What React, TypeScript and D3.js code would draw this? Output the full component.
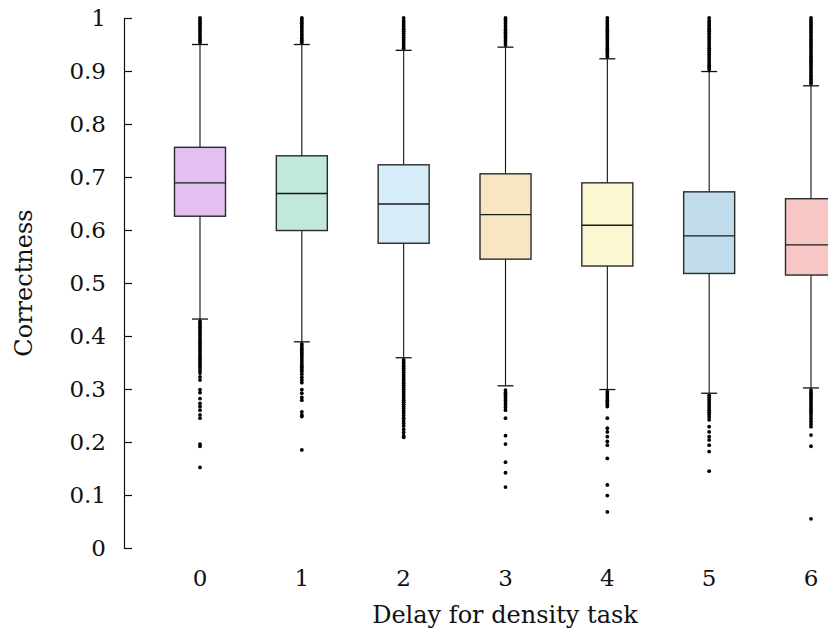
import React, { useEffect, useRef } from 'react';
import * as d3 from 'd3';

// delay categories on the x axis
const delays = ['0', '1', '2', '3', '4', '5', '6'];

// box statistics per delay
const q1 = [0.626, 0.599, 0.575, 0.545, 0.532, 0.518, 0.515];
const medians = [0.689, 0.669, 0.649, 0.629, 0.609, 0.589, 0.572];
const q3 = [0.756, 0.740, 0.723, 0.706, 0.689, 0.672, 0.659];
const lowerWhisker = [0.432, 0.389, 0.359, 0.306, 0.299, 0.292, 0.302];
const upperWhisker = [0.950, 0.950, 0.939, 0.945, 0.923, 0.899, 0.872];

const fills = ['#e3c0f1', '#c1e8dd', '#d6ecf8', '#f8e6c2', '#fbf7d0', '#c1dcec', '#f6c7c4'];

// outliers above the upper whisker
const highOutliers = [
  [0.954, 0.958, 0.962, 0.966, 0.970, 0.974, 0.978, 0.982, 0.986, 0.990, 0.994, 0.998, 1.0],
  [0.954, 0.958, 0.962, 0.966, 0.970, 0.974, 0.978, 0.982, 0.986, 0.990, 0.994, 0.998, 1.0],
  [0.943, 0.947, 0.951, 0.955, 0.959, 0.963, 0.967, 0.971, 0.975, 0.979, 0.983, 0.987, 0.991, 0.995, 1.0],
  [0.949, 0.953, 0.957, 0.961, 0.965, 0.969, 0.973, 0.977, 0.981, 0.985, 0.989, 0.993, 0.997, 1.0],
  [0.927, 0.931, 0.935, 0.939, 0.943, 0.947, 0.951, 0.955, 0.959, 0.963, 0.967, 0.971, 0.975, 0.979, 0.983, 0.987, 0.991, 0.995, 1.0],
  [0.903, 0.907, 0.911, 0.915, 0.919, 0.923, 0.927, 0.931, 0.935, 0.939, 0.943, 0.947, 0.951, 0.955, 0.959, 0.963, 0.967, 0.971, 0.975, 0.979, 0.983, 0.987, 0.991, 0.995, 1.0],
  [0.876, 0.880, 0.884, 0.888, 0.892, 0.896, 0.900, 0.904, 0.908, 0.912, 0.916, 0.920, 0.924, 0.928, 0.932, 0.936, 0.940, 0.944, 0.948, 0.952, 0.956, 0.960, 0.964, 0.968, 0.972, 0.976, 0.980, 0.984, 0.988, 0.992, 0.996, 1.0],
];

// outliers below the lower whisker
const lowOutliers = [
  [0.428, 0.424, 0.420, 0.416, 0.412, 0.408, 0.404, 0.400, 0.396, 0.392, 0.388, 0.384, 0.380, 0.376, 0.372, 0.368, 0.364, 0.360, 0.356, 0.352, 0.348, 0.344, 0.340, 0.335, 0.330, 0.323, 0.317, 0.299, 0.293, 0.282, 0.273, 0.267, 0.260, 0.251, 0.245, 0.196, 0.192, 0.152],
  [0.385, 0.381, 0.377, 0.373, 0.369, 0.365, 0.361, 0.357, 0.353, 0.349, 0.345, 0.341, 0.337, 0.333, 0.328, 0.322, 0.317, 0.312, 0.299, 0.292, 0.284, 0.279, 0.257, 0.251, 0.248, 0.185],
  [0.355, 0.351, 0.347, 0.343, 0.339, 0.335, 0.331, 0.327, 0.323, 0.319, 0.315, 0.311, 0.307, 0.303, 0.299, 0.295, 0.291, 0.287, 0.283, 0.279, 0.275, 0.271, 0.267, 0.263, 0.259, 0.255, 0.250, 0.245, 0.240, 0.235, 0.230, 0.224, 0.218, 0.212, 0.209],
  [0.298, 0.294, 0.290, 0.286, 0.282, 0.278, 0.274, 0.270, 0.265, 0.260, 0.245, 0.212, 0.196, 0.162, 0.142, 0.115],
  [0.295, 0.291, 0.287, 0.283, 0.279, 0.275, 0.271, 0.267, 0.245, 0.226, 0.219, 0.210, 0.201, 0.194, 0.169, 0.119, 0.099, 0.068],
  [0.288, 0.284, 0.280, 0.276, 0.272, 0.268, 0.264, 0.260, 0.256, 0.252, 0.247, 0.242, 0.229, 0.219, 0.210, 0.204, 0.194, 0.182, 0.145],
  [0.298, 0.294, 0.290, 0.286, 0.282, 0.278, 0.274, 0.270, 0.266, 0.262, 0.258, 0.254, 0.249, 0.244, 0.239, 0.234, 0.229, 0.213, 0.192, 0.055],
];

const yTicks = [0, 0.1, 0.2, 0.3, 0.4, 0.5, 0.6, 0.7, 0.8, 0.9, 1];

const FONT = '"DejaVu Serif", serif';

const App = () => {
  const svgRef = useRef(null);

  useEffect(() => {
    const svg = d3.select(svgRef.current);
    svg.selectAll('*').remove();

    const x = d3.scalePoint().domain(delays).range([200, 811]);
    const y = d3.scaleLinear().domain([0, 1]).range([548, 18]);
    const boxW = 51;
    const capW = 16;

    // y axis, ticks pointing into the plot
    const yAxis = d3
      .axisLeft(y)
      .tickValues(yTicks)
      .tickFormat(d3.format('~g'))
      .tickSizeInner(-8)
      .tickSizeOuter(0)
      .tickPadding(18);
    const yg = svg.append('g').attr('transform', 'translate(124,0)').call(yAxis);
    yg.selectAll('path, line').attr('stroke', '#111').attr('stroke-width', 1.2);
    yg.selectAll('text').attr('font-family', FONT).attr('font-size', 23).attr('fill', '#111');

    // x labels, no axis line
    svg
      .append('g')
      .selectAll('text')
      .data(delays)
      .join('text')
      .attr('x', d => x(d))
      .attr('y', 586)
      .attr('text-anchor', 'middle')
      .attr('font-family', FONT)
      .attr('font-size', 23)
      .attr('fill', '#111')
      .text(d => d);

    const boxes = svg
      .append('g')
      .selectAll('g')
      .data(delays)
      .join('g')
      .attr('transform', d => `translate(${x(d)},0)`);

    // whisker line and caps
    boxes
      .append('line')
      .attr('y1', (d, i) => y(lowerWhisker[i]))
      .attr('y2', (d, i) => y(upperWhisker[i]))
      .attr('stroke', '#111')
      .attr('stroke-width', 1.1);
    boxes
      .append('line')
      .attr('x1', -capW / 2)
      .attr('x2', capW / 2)
      .attr('y1', (d, i) => y(upperWhisker[i]))
      .attr('y2', (d, i) => y(upperWhisker[i]))
      .attr('stroke', '#111')
      .attr('stroke-width', 1.3);
    boxes
      .append('line')
      .attr('x1', -capW / 2)
      .attr('x2', capW / 2)
      .attr('y1', (d, i) => y(lowerWhisker[i]))
      .attr('y2', (d, i) => y(lowerWhisker[i]))
      .attr('stroke', '#111')
      .attr('stroke-width', 1.3);

    // boxes
    boxes
      .append('rect')
      .attr('x', -boxW / 2)
      .attr('width', boxW)
      .attr('y', (d, i) => y(q3[i]))
      .attr('height', (d, i) => y(q1[i]) - y(q3[i]))
      .attr('fill', (d, i) => fills[i])
      .attr('stroke', '#2a2a2a')
      .attr('stroke-width', 1.4);
    boxes
      .append('line')
      .attr('x1', -boxW / 2)
      .attr('x2', boxW / 2)
      .attr('y1', (d, i) => y(medians[i]))
      .attr('y2', (d, i) => y(medians[i]))
      .attr('stroke', '#1a1a1a')
      .attr('stroke-width', 1.4);

    // outliers
    boxes
      .selectAll('circle')
      .data((d, i) => highOutliers[i].concat(lowOutliers[i]))
      .join('circle')
      .attr('cx', 0)
      .attr('cy', v => y(v))
      .attr('r', 1.9)
      .attr('fill', '#000');

    // axis titles
    svg
      .append('text')
      .attr('x', 505)
      .attr('y', 623)
      .attr('text-anchor', 'middle')
      .attr('font-family', FONT)
      .attr('font-size', 24)
      .attr('fill', '#111')
      .text('Delay for density task');
    svg
      .append('text')
      .attr('transform', 'translate(32,283) rotate(-90)')
      .attr('text-anchor', 'middle')
      .attr('font-family', FONT)
      .attr('font-size', 24)
      .attr('fill', '#111')
      .text('Correctness');
  }, []);

  return (
    <svg
      ref={svgRef}
      width={828}
      height={636}
      style={{ position: 'absolute', left: 0, top: 0, background: '#fff' }}
    ></svg>
  );
};

export default App;
